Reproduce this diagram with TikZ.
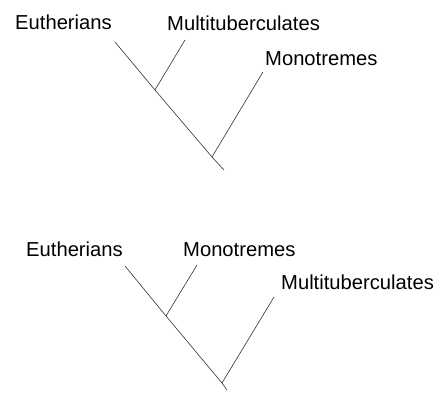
\documentclass[tikz,border=0pt]{standalone}
\usepackage{fontspec}
\setmainfont{Liberation Sans}
\begin{document}
\begin{tikzpicture}[x=1pt,y=-1pt,
  lbl/.style={anchor=base west,inner sep=0pt,font=\fontsize{20.2}{22}\selectfont},
  br/.style={line width=0.6pt,black!80}]
\useasboundingbox (0,0) rectangle (437,395);
% top tree
\node[lbl] (e1) at (15,30) {Eutherians};
\node[lbl] (m1) at (167,31) {Multituberculates};
\node[lbl] (o1) at (265,66) {Monotremes};
\coordinate (e1t) at (115,42);
\coordinate (m1t) at (185,40);
\coordinate (o1t) at (263,72);
\coordinate (a1) at (155,90);
\coordinate (b1) at (212,157);
\coordinate (r1) at (224,170);
\draw[br] (e1t) -- (a1) -- (m1t);
\draw[br] (a1) -- (b1) -- (o1t);
\draw[br] (b1) -- (r1);
% bottom tree
\node[lbl] (e2) at (26,257) {Eutherians};
\node[lbl] (o2) at (183,257) {Monotremes};
\node[lbl] (m2) at (281,290) {Multituberculates};
\coordinate (e2t) at (125,266);
\coordinate (o2t) at (197,265);
\coordinate (m2t) at (274,297);
\coordinate (a2) at (166,316);
\coordinate (b2) at (222,383);
\coordinate (r2) at (227,390);
\draw[br] (e2t) -- (a2) -- (o2t);
\draw[br] (a2) -- (b2) -- (m2t);
\draw[br] (b2) -- (r2);
\end{tikzpicture}
\end{document}
